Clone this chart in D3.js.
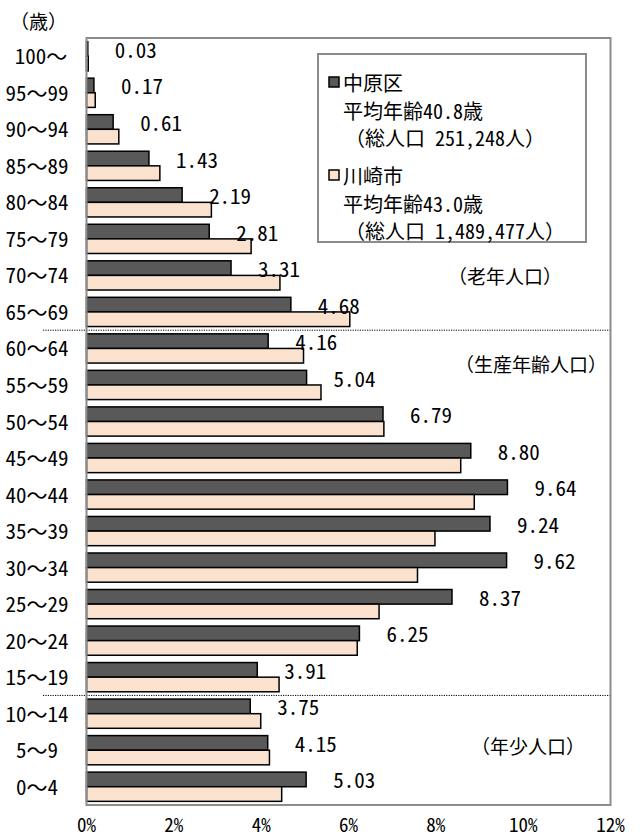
<!DOCTYPE html>
<html lang="ja">
<head>
<meta charset="utf-8">
<script src="https://cdn.jsdelivr.net/npm/d3@7"></script>
<style>
  html, body { margin: 0; padding: 0; background: #fff; }
  svg { display: block; }
  text { font-family: "Noto Sans CJK JP", sans-serif; fill: #000; }
  tspan.hw { font-feature-settings: "hwid"; }
</style>
</head>
<body>
<div id="chart"></div>
<script>
const ageGroups = [
  "100～", "95～99", "90～94", "85～89", "80～84", "75～79", "70～74",
  "65～69", "60～64", "55～59", "50～54", "45～49", "40～44", "35～39",
  "30～34", "25～29", "20～24", "15～19", "10～14", "5～9", "0～4",
];
const nakaharaValues = [
  0.03, 0.17, 0.61, 1.43, 2.19, 2.81, 3.31, 4.68, 4.16, 5.04, 6.79, 8.8,
  9.64, 9.24, 9.62, 8.37, 6.25, 3.91, 3.75, 4.15, 5.03,
];
const kawasakiValues = [
  0.04, 0.2, 0.74, 1.68, 2.86, 3.77, 4.43, 6.03, 4.97, 5.37, 6.81, 8.57,
  8.88, 7.98, 7.58, 6.7, 6.2, 4.41, 3.99, 4.19, 4.47,
];
const xTicks = [0, 2, 4, 6, 8, 10, 12];
const seriesNames = ["中原区", "川崎市"];
const seriesNotes = [
  ["平均年齢40.8歳", "（総人口 251,248人）"],
  ["平均年齢43.0歳", "（総人口 1,489,477人）"],
];
const sectionNames = ["（老年人口）", "（生産年齢人口）", "（年少人口）"];
const dividerAfter = ["65～69", "15～19"];
const unitLabel = "（歳）";

// half-width digits (like a gothic monospace face), full-width for the rest
function mixedText(selection, accessor) {
  selection.each(function (d, i) {
    let str = accessor(d, i);
    let node = d3.select(this);
    node.text(null);
    str
      .split(/([0-9.,% ]+)/)
      .filter((s) => s.length > 0)
      .forEach((part) => {
        node
          .append("tspan")
          .attr("class", /^[0-9.,% ]+$/.test(part) ? "hw" : null)
          .text(part);
      });
  });
}

class PyramidBars {
  constructor(selector) {
    this.width = 640;
    this.height = 838;
    this.plot = { left: 86.5, right: 610.5, top: 38, bottom: 805 };
    this.colors = ["#595959", "#fbe2cf"];

    this.svg = d3
      .select(selector)
      .append("svg")
      .attr("width", this.width)
      .attr("height", this.height)
      .attr("viewBox", `0 0 ${this.width} ${this.height}`);

    this.x = d3
      .scaleLinear()
      .domain([0, 12])
      .range([this.plot.left, this.plot.right]);
    this.y = d3
      .scaleBand()
      .domain(ageGroups)
      .range([this.plot.top, this.plot.bottom])
      .paddingInner(0.2)
      .paddingOuter(0.1);
  }

  render() {
    let data = ageGroups.map((g, i) => ({
      group: g,
      values: [nakaharaValues[i], kawasakiValues[i]],
    }));
    let half = this.y.bandwidth() / 2;
    let x = this.x;
    let y = this.y;

    // dividers between population sections
    let gap = (y.step() - y.bandwidth()) / 2;
    this.svg
      .selectAll("line.divider")
      .data(dividerAfter)
      .join("line")
      .attr("class", "divider")
      .attr("x1", 43)
      .attr("x2", this.plot.right)
      .attr("y1", (d) => y(d) + y.bandwidth() + gap)
      .attr("y2", (d) => y(d) + y.bandwidth() + gap)
      .attr("stroke", "#000")
      .attr("stroke-width", 1)
      .attr("stroke-dasharray", "1.2 1.2");

    // bars
    let groups = this.svg
      .selectAll("g.group")
      .data(data)
      .join("g")
      .attr("class", "group")
      .attr("transform", (d) => `translate(0,${y(d.group)})`);

    groups
      .selectAll("rect")
      .data((d) => d.values)
      .join("rect")
      .attr("x", x(0))
      .attr("y", (d, i) => i * half)
      .attr("width", (d) => x(d) - x(0))
      .attr("height", half)
      .attr("fill", (d, i) => this.colors[i])
      .attr("stroke", "#000")
      .attr("stroke-width", 1.5);

    // value labels for 中原区
    groups
      .append("text")
      .attr("x", (d) => x(d.values[0]) + 27)
      .attr("y", half / 2)
      .attr("dominant-baseline", "central")
      .style("font-size", "21px")
      .call(mixedText, (d) => d.values[0].toFixed(2));

    // plot frame
    this.svg
      .append("rect")
      .attr("x", this.plot.left)
      .attr("y", this.plot.top)
      .attr("width", this.plot.right - this.plot.left)
      .attr("height", this.plot.bottom - this.plot.top)
      .attr("fill", "none")
      .attr("stroke", "#8c8c8c")
      .attr("stroke-width", 2);

    this.insertYAxis();
    this.insertXAxis();
    this.renderKey();
    this.renderSections();
  }

  insertYAxis() {
    let y = this.y;
    this.svg
      .selectAll("text.age")
      .data(ageGroups)
      .join("text")
      .attr("class", "age")
      .attr("x", (d, i) => (i === 0 ? 41 : 37))
      .attr("y", (d) => y(d) + y.bandwidth() / 2 - 1)
      .attr("text-anchor", "middle")
      .attr("dominant-baseline", "central")
      .style("font-size", "21px")
      .call(mixedText, (d) => d);

    this.svg
      .append("text")
      .attr("x", 10)
      .attr("y", 20)
      .attr("dominant-baseline", "central")
      .style("font-size", "19px")
      .text(unitLabel);
  }

  insertXAxis() {
    let x = this.x;
    this.svg
      .selectAll("text.tick")
      .data(xTicks)
      .join("text")
      .attr("class", "tick")
      .attr("x", (d) => x(d))
      .attr("y", 823)
      .attr("text-anchor", "middle")
      .attr("dominant-baseline", "central")
      .style("font-size", "19px")
      .call(mixedText, (d) => `${d}%`);
  }

  renderKey() {
    let key = this.svg.append("g").attr("class", "key");
    key
      .append("rect")
      .attr("x", 318)
      .attr("y", 54)
      .attr("width", 268)
      .attr("height", 188)
      .attr("fill", "#fff")
      .attr("stroke", "#8c8c8c")
      .attr("stroke-width", 2);

    let items = key
      .selectAll("g.key-element")
      .data(seriesNames)
      .join("g")
      .attr("class", "key-element")
      .attr("transform", (d, i) => `translate(0,${82 + i * 93})`);

    items
      .append("rect")
      .attr("x", 329)
      .attr("y", -5)
      .attr("width", 10)
      .attr("height", 10)
      .attr("fill", (d, i) => this.colors[i])
      .attr("stroke", "#000")
      .attr("stroke-width", 1.5);

    items
      .append("text")
      .attr("x", 343)
      .attr("y", 0)
      .attr("dominant-baseline", "central")
      .style("font-size", "20px")
      .text((d) => d);

    items
      .selectAll("text.note")
      .data((d, i) => seriesNotes[i])
      .join("text")
      .attr("class", "note")
      .attr("x", (d, j) => (j === 0 ? 343 : 345))
      .attr("y", (d, j) => 28 + j * 27)
      .attr("dominant-baseline", "central")
      .style("font-size", "20px")
      .call(mixedText, (d) => d);
  }

  renderSections() {
    let spots = [
      [448, 275],
      [455, 363],
      [471, 745],
    ];
    this.svg
      .selectAll("text.section")
      .data(sectionNames)
      .join("text")
      .attr("class", "section")
      .attr("x", (d, i) => spots[i][0])
      .attr("y", (d, i) => spots[i][1])
      .attr("dominant-baseline", "central")
      .style("font-size", "19px")
      .text((d) => d);
  }
}

new PyramidBars("#chart").render();
</script>
</body>
</html>
